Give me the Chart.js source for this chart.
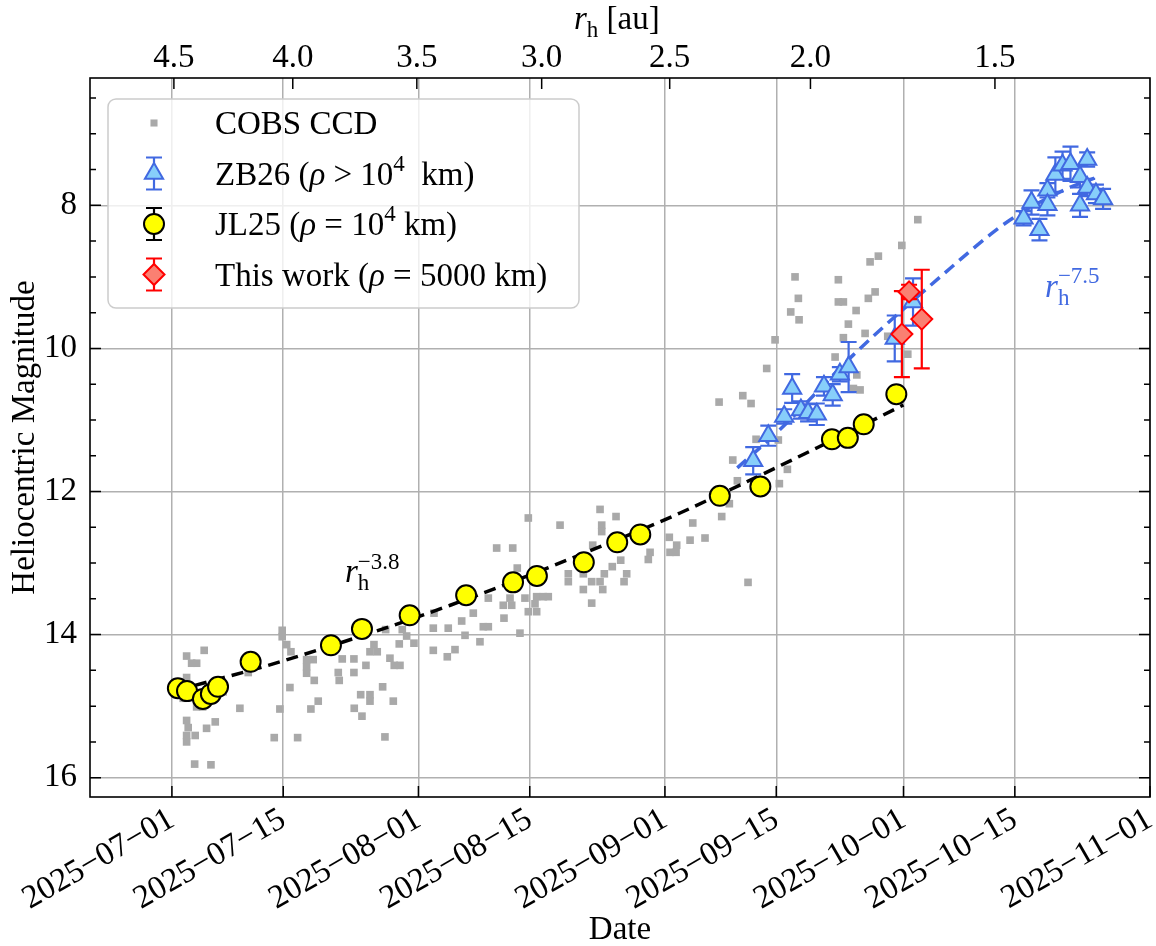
<!DOCTYPE html>
<html>
<head>
<meta charset="utf-8">
<title>Heliocentric magnitude</title>
<script src="https://cdn.jsdelivr.net/npm/chart.js@4.4.0/dist/chart.umd.min.js"></script>
<style>
  html, body { margin: 0; padding: 0; background: #fff; }
</style>
</head>
<body>
<canvas id="magChart" width="1156" height="946"></canvas>
<script>
// x values are days counted from 2025-07-01
const xMin = -10.3;
const xMax = 123.0;
const yMin = 6.22;
const yMax = 16.27;

const dateTicks = [0, 14, 31, 45, 62, 76, 92, 106, 123];
const dateTickLabels = ['2025−07−01', '2025−07−15', '2025−08−01', '2025−08−15', '2025−09−01',
  '2025−09−15', '2025−10−01', '2025−10−15', '2025−11−01'];
const rhTickDays = [0.25, 15.2, 30.8, 46.5, 62.6, 80.3, 103.5];
const rhTickLabels = ['4.5', '4.0', '3.5', '3.0', '2.5', '2.0', '1.5'];
const magTicks = [8, 10, 12, 14, 16];

// COBS CCD observations
const cobsDays = [
  1.85, 4.06, 2.48, 3.11, 1.85, 1.42, 3.11, 3.86, 8.55, 9.60, 6.45, 2.05, 1.85, 1.85, 2.93, 4.36, 5.45, 2.86, 4.91, 1.85,
  13.87, 13.87, 14.43, 14.97, 16.94, 17.77, 16.94, 16.94, 17.90, 14.84, 18.40, 17.48, 13.58, 12.87, 15.81,
  21.42, 22.89, 20.92, 21.04, 22.89, 24.40, 24.91, 25.82, 25.41, 26.88, 28.97, 29.52, 28.59, 30.44, 27.42,
  27.96, 28.68, 26.50, 23.74, 24.91, 24.91, 27.84, 22.93, 23.90, 26.79, 32.96, 32.87, 34.75, 32.87, 34.63,
  53.84, 55.85, 54.05, 54.05, 44.82, 48.81, 40.84, 42.86, 43.43, 52.92, 56.44, 55.38, 57.19, 60.13, 59.91,
  62.55, 63.48, 62.64, 63.40, 49.85, 49.85, 51.74, 52.79, 53.84, 54.38, 51.74, 54.18, 56.86, 52.79, 39.79,
  42.52, 41.67, 42.73, 44.40, 45.87, 46.70, 47.33, 45.66, 44.82, 45.87, 41.76, 37.90, 36.44, 36.86, 39.16,
  39.79, 38.74, 43.77, 35.60,
  93.80, 91.79, 88.84, 87.80, 78.36, 83.81, 88.43, 87.58, 78.78, 83.81, 84.44, 77.82, 86.04, 78.87, 85.07,
  87.17, 84.44, 75.85, 83.40, 74.80, 92.54, 86.13, 85.70, 86.54, 71.79, 72.83, 68.81, 73.46, 76.26, 70.53,
  77.40, 71.11, 76.39, 70.10, 69.14, 65.50, 72.45, 90.02, 65.16, 67.04
];
const cobsMag = [
  14.30, 14.22, 14.40, 14.40, 14.60, 14.89, 15.01, 15.01, 15.03, 14.53, 14.80, 15.30, 15.41, 15.50, 15.41, 15.31, 15.22, 15.81, 15.82, 15.20,
  13.94, 14.03, 14.14, 14.24, 14.35, 14.35, 14.45, 14.54, 14.64, 14.74, 14.93, 15.04, 15.04, 15.44, 15.44,
  14.34, 14.34, 14.53, 14.64, 14.53, 14.43, 14.24, 14.24, 14.14, 13.93, 13.93, 14.02, 14.13, 14.12, 14.33,
  14.43, 14.43, 14.73, 14.84, 14.84, 14.93, 14.93, 15.03, 15.14, 15.43, 13.70, 13.91, 13.91, 14.22, 14.31,
  12.25, 12.35, 12.47, 12.56, 12.37, 12.47, 12.79, 12.79, 13.07, 12.75, 12.96, 13.05, 13.15, 12.85, 12.95,
  12.64, 12.75, 12.85, 12.85, 13.15, 13.26, 13.15, 13.26, 13.26, 13.15, 13.37, 13.37, 13.26, 13.56, 13.49,
  13.49, 13.59, 13.59, 13.49, 13.47, 13.47, 13.47, 13.57, 13.68, 13.68, 13.77, 13.70, 13.81, 14.01, 13.89,
  13.89, 14.10, 13.98, 14.21,
  8.20, 8.56, 8.71, 8.79, 9.00, 9.04, 9.21, 9.30, 9.30, 9.35, 9.35, 9.49, 9.47, 9.60, 9.66,
  9.79, 9.85, 9.88, 10.12, 10.28, 10.08, 10.37, 10.56, 10.58, 10.66, 10.77, 10.75, 11.27, 11.28, 11.56,
  11.69, 11.85, 11.89, 12.17, 12.35, 12.44, 13.27, 9.83, 12.68, 12.65
];

// ZB26
const zbDays = [73.1, 75.0, 77.0, 78.0, 79.1, 80.0, 81.1, 82.0, 83.1, 84.0, 85.1, 90.9, 93.2,
  107.1, 108.1, 109.1, 110.1, 110.1, 111.1, 112.0, 113.0, 114.2, 114.2, 115.1, 115.1, 116.2, 117.1];
const zbMag = [11.57, 11.22, 10.95, 10.56, 10.86, 10.90, 10.92, 10.53, 10.65, 10.36, 10.26, 9.86, 9.35,
  8.18, 7.96, 8.34, 7.79, 7.99, 7.57, 7.44, 7.42, 7.60, 8.00, 7.36, 7.75, 7.84, 7.91];
const zbErr = [0.19, 0.14, 0.10, 0.20, 0.12, 0.12, 0.15, 0.13, 0.15, 0.10, 0.35, 0.32, 0.33,
  0.10, 0.17, 0.15, 0.10, 0.15, 0.24, 0.19, 0.24, 0.15, 0.16, 0.10, 0.12, 0.13, 0.14];

// JL25
const jlDays = [0.75, 1.9, 3.9, 4.9, 5.8, 9.9, 20.0, 23.9, 29.9, 37.0, 42.9, 45.9, 51.8, 56.0, 58.9,
  68.9, 74.0, 83.0, 85.0, 87.0, 91.1];
const jlMag = [14.75, 14.79, 14.90, 14.83, 14.73, 14.38, 14.15, 13.92, 13.73, 13.45, 13.27, 13.18, 12.99, 12.71, 12.60,
  12.06, 11.93, 11.27, 11.25, 11.06, 10.64];
const jlErr = [0.05, 0.05, 0.05, 0.05, 0.05, 0.05, 0.05, 0.05, 0.05, 0.05, 0.05, 0.05, 0.05, 0.05, 0.05,
  0.05, 0.05, 0.05, 0.05, 0.05, 0.05];

// This work
const twDays = [91.8, 92.7, 94.3];
const twMag = [9.80, 9.21, 9.59];
const twErr = [0.60, 0.10, 0.69];

// power-law fits
const fit38Days = [2.9, 13.6, 35.0, 58.9, 63.9, 82.4, 92.0];
const fit38Mag = [14.71, 14.38, 13.59, 12.54, 12.30, 11.32, 10.79];
const fit75Days = [71.1, 76.5, 85.7, 98.7, 102.9, 106.0, 112.3, 116.0];
const fit75Mag = [11.67, 11.13, 10.09, 8.80, 8.41, 8.16, 7.78, 7.62];

const serif = "'Liberation Serif', 'DejaVu Serif', serif";
const FS = 33;
const blue = '#4169e1';
const gridColor = '#b0b0b0';

const pts = (xs, ys) => xs.map((v, i) => ({ x: v, y: ys[i] }));

function drawRich(ctx, segs, x, y, size, color) {
  const fontFor = s => (s === 'i' ? 'italic ' : '') +
    (s === 'sup' || s === 'sub' ? Math.round(size * 0.7) : size) + 'px ' + serif;
  ctx.fillStyle = color;
  ctx.textAlign = 'left';
  ctx.textBaseline = 'alphabetic';
  let cx = x, lastStart = x, lastEnd = x;
  segs.forEach(g => {
    ctx.font = fontFor(g.s);
    const w = ctx.measureText(g.t).width;
    const start = g.stack ? lastStart : cx;
    const dy = g.s === 'sup' ? -size * 0.42 : g.s === 'sub' ? size * 0.24 : 0;
    ctx.fillText(g.t, start, y + dy);
    lastStart = start;
    lastEnd = g.stack ? Math.max(lastEnd, start + w) : start + w;
    cx = lastEnd;
  });
  return cx - x;
}

function drawMarker(ctx, style, x, y, r, fill, stroke, lw) {
  ctx.beginPath();
  if (style === 'rect') {
    const s = r * Math.SQRT1_2;
    ctx.rect(x - s, y - s, 2 * s, 2 * s);
  } else if (style === 'triangle') {
    ctx.moveTo(x, y - r);
    ctx.lineTo(x + 0.866 * r, y + 0.5 * r);
    ctx.lineTo(x - 0.866 * r, y + 0.5 * r);
    ctx.closePath();
  } else if (style === 'rectRot') {
    ctx.moveTo(x, y - r); ctx.lineTo(x + r, y); ctx.lineTo(x, y + r); ctx.lineTo(x - r, y);
    ctx.closePath();
  } else {
    ctx.arc(x, y, r, 0, Math.PI * 2);
  }
  ctx.fillStyle = fill;
  ctx.fill();
  if (lw > 0) { ctx.lineWidth = lw; ctx.strokeStyle = stroke; ctx.stroke(); }
}

// error bars are drawn just before the markers of their dataset
const errorBars = {
  id: 'errorBars',
  beforeDatasetDraw(chart, args) {
    const ds = chart.data.datasets[args.index];
    if (!ds.errors) return;
    const { ctx, chartArea: a, scales: { x, y } } = chart;
    ctx.save();
    ctx.beginPath();
    ctx.rect(a.left, a.top, a.right - a.left, a.bottom - a.top);
    ctx.clip();
    ctx.strokeStyle = ds.errorColor;
    ctx.lineWidth = 2.2;
    ds.data.forEach((p, i) => {
      const px = x.getPixelForValue(p.x);
      const y1 = y.getPixelForValue(p.y - ds.errors[i]);
      const y2 = y.getPixelForValue(p.y + ds.errors[i]);
      ctx.beginPath();
      ctx.moveTo(px, y1); ctx.lineTo(px, y2);
      ctx.moveTo(px - 8, y1); ctx.lineTo(px + 8, y1);
      ctx.moveTo(px - 8, y2); ctx.lineTo(px + 8, y2);
      ctx.stroke();
    });
    ctx.restore();
  }
};

// frame with inward ticks, like matplotlib's direction='in'
const frameTicks = {
  id: 'frameTicks',
  afterDatasetsDraw(chart) {
    const { ctx, chartArea: a, scales: { x, y } } = chart;
    ctx.save();
    ctx.strokeStyle = '#000';
    ctx.lineWidth = 1.5;
    ctx.beginPath();
    dateTicks.forEach(v => {
      const px = x.getPixelForValue(v);
      ctx.moveTo(px, a.bottom); ctx.lineTo(px, a.bottom - 11);
    });
    rhTickDays.forEach(v => {
      const px = x.getPixelForValue(v);
      ctx.moveTo(px, a.top); ctx.lineTo(px, a.top + 11);
    });
    for (let m = 6.5; m <= 16.01; m += 0.5) {
      const py = y.getPixelForValue(m);
      const len = magTicks.includes(m) ? 11 : 6;
      ctx.moveTo(a.left, py); ctx.lineTo(a.left + len, py);
      ctx.moveTo(a.right, py); ctx.lineTo(a.right - len, py);
    }
    ctx.stroke();
    ctx.lineWidth = 1.6;
    ctx.strokeRect(a.left, a.top, a.right - a.left, a.bottom - a.top);
    ctx.restore();
  }
};

const legendRows = [
  { index: 5, segs: [{ t: 'COBS CCD' }] },
  { index: 2, segs: [{ t: 'ZB26 (' }, { t: 'ρ', s: 'i' }, { t: ' > 10' }, { t: '4', s: 'sup' }, { t: '  km)' }] },
  { index: 1, segs: [{ t: 'JL25 (' }, { t: 'ρ', s: 'i' }, { t: ' = 10' }, { t: '4', s: 'sup' }, { t: ' km)' }] },
  { index: 0, segs: [{ t: 'This work (' }, { t: 'ρ', s: 'i' }, { t: ' = 5000 km)' }] }
];

const overlay = {
  id: 'overlay',
  afterDraw(chart) {
    const { ctx, chartArea: a, scales: { x, y } } = chart;
    ctx.save();

    // top axis title
    drawRich(ctx, [{ t: 'r', s: 'i' }, { t: 'h', s: 'sub' }, { t: ' [au]' }], (a.left + a.right) / 2 - 46, 29, FS, '#000');

    // fit annotations
    drawRich(ctx, [{ t: 'r', s: 'i' }, { t: 'h', s: 'sub' }, { t: '−3.8', s: 'sup', stack: true }],
      x.getPixelForValue(21.76), y.getPixelForValue(13.27), FS, '#000');
    drawRich(ctx, [{ t: 'r', s: 'i' }, { t: 'h', s: 'sub' }, { t: '−7.5', s: 'sup', stack: true }],
      x.getPixelForValue(109.8), y.getPixelForValue(9.28), FS, blue);

    // legend
    const bx = a.left + 18, by = a.top + 21, bw = 471, bh = 209;
    ctx.beginPath();
    ctx.roundRect(bx, by, bw, bh, 8);
    ctx.fillStyle = 'rgba(255,255,255,0.8)';
    ctx.fill();
    ctx.lineWidth = 1.5;
    ctx.strokeStyle = '#cccccc';
    ctx.stroke();
    legendRows.forEach((row, i) => {
      const ds = chart.data.datasets[row.index];
      const mx = bx + 46, my = by + 24 + i * 50.5;
      if (ds.errors) {
        ctx.strokeStyle = ds.errorColor;
        ctx.lineWidth = 2.2;
        ctx.beginPath();
        ctx.moveTo(mx, my - 16); ctx.lineTo(mx, my + 16);
        ctx.moveTo(mx - 8, my - 16); ctx.lineTo(mx + 8, my - 16);
        ctx.moveTo(mx - 8, my + 16); ctx.lineTo(mx + 8, my + 16);
        ctx.stroke();
      }
      const r = row.index === 5 ? 5 : ds.pointRadius;
      drawMarker(ctx, ds.pointStyle, mx, my, r, ds.backgroundColor, ds.borderColor, ds.borderWidth);
      drawRich(ctx, row.segs, bx + 107, my + 11, FS, '#000');
    });
    ctx.restore();
  }
};

Chart.defaults.font.family = serif;
Chart.defaults.font.size = FS;
Chart.defaults.color = '#000';

const ctx = document.getElementById('magChart').getContext('2d');
const magChart = new Chart(ctx, {
  type: 'scatter',
  data: {
    datasets: [
      {
        label: 'This work',
        data: pts(twDays, twMag),
        pointStyle: 'rectRot', pointRadius: 10.5,
        backgroundColor: '#fa8072', borderColor: '#ff0000', borderWidth: 2,
        errors: twErr, errorColor: '#ff0000',
        order: 0
      },
      {
        label: 'JL25',
        data: pts(jlDays, jlMag),
        pointStyle: 'circle', pointRadius: 10,
        backgroundColor: '#ffff00', borderColor: '#000000', borderWidth: 2,
        errors: jlErr, errorColor: '#000000',
        order: 1
      },
      {
        label: 'ZB26',
        data: pts(zbDays, zbMag),
        pointStyle: 'triangle', pointRadius: 10.5,
        backgroundColor: '#87cefa', borderColor: blue, borderWidth: 2,
        errors: zbErr, errorColor: blue,
        order: 2
      },
      {
        label: 'fit -7.5',
        data: pts(fit75Days, fit75Mag),
        showLine: true, pointRadius: 0,
        borderColor: blue, borderWidth: 3.5, borderDash: [12, 7],
        cubicInterpolationMode: 'monotone',
        order: 3
      },
      {
        label: 'fit -3.8',
        data: pts(fit38Days, fit38Mag),
        showLine: true, pointRadius: 0,
        borderColor: '#000000', borderWidth: 3.5, borderDash: [12, 7],
        cubicInterpolationMode: 'monotone',
        order: 4
      },
      {
        label: 'COBS CCD',
        data: pts(cobsDays, cobsMag),
        pointStyle: 'rect', pointRadius: 5.4,
        backgroundColor: '#a9a9a9', borderColor: '#a9a9a9', borderWidth: 0,
        order: 5
      }
    ]
  },
  options: {
    responsive: false,
    animation: false,
    devicePixelRatio: 1,
    events: [],
    layout: { autoPadding: false, padding: { right: 6 } },
    plugins: {
      legend: { display: false },
      tooltip: { enabled: false }
    },
    scales: {
      x: {
        type: 'linear', position: 'bottom',
        min: xMin, max: xMax,
        afterBuildTicks: s => { s.ticks = dateTicks.map(v => ({ value: v })); },
        afterFit: s => { s.height = 149; s.paddingLeft = 0; s.paddingRight = 0; },
        ticks: {
          autoSkip: false, minRotation: 30, maxRotation: 30, padding: 3,
          callback: v => dateTickLabels[dateTicks.indexOf(v)]
        },
        grid: { color: gridColor, lineWidth: 1.5, drawTicks: false },
        border: { display: false },
        title: { display: true, text: 'Date', padding: { top: 0, bottom: -4 } }
      },
      x2: {
        type: 'linear', position: 'top',
        min: xMin, max: xMax,
        afterBuildTicks: s => { s.ticks = rhTickDays.map(v => ({ value: v })); },
        afterFit: s => { s.height = 78; s.paddingLeft = 0; s.paddingRight = 0; },
        ticks: {
          autoSkip: false, maxRotation: 0, padding: 0,
          callback: v => rhTickLabels[rhTickDays.indexOf(v)]
        },
        grid: { display: false, drawTicks: false },
        border: { display: false }
      },
      y: {
        type: 'linear', reverse: true,
        min: yMin, max: yMax,
        afterBuildTicks: s => { s.ticks = magTicks.map(v => ({ value: v })); },
        afterFit: s => { s.width = 90; },
        ticks: { padding: 13, callback: v => String(v) },
        grid: { color: gridColor, lineWidth: 1.5, drawTicks: false },
        border: { display: false },
        title: { display: true, text: 'Heliocentric Magnitude', padding: { top: 6, bottom: 0 } }
      }
    }
  },
  plugins: [errorBars, frameTicks, overlay]
});
</script>
</body>
</html>
